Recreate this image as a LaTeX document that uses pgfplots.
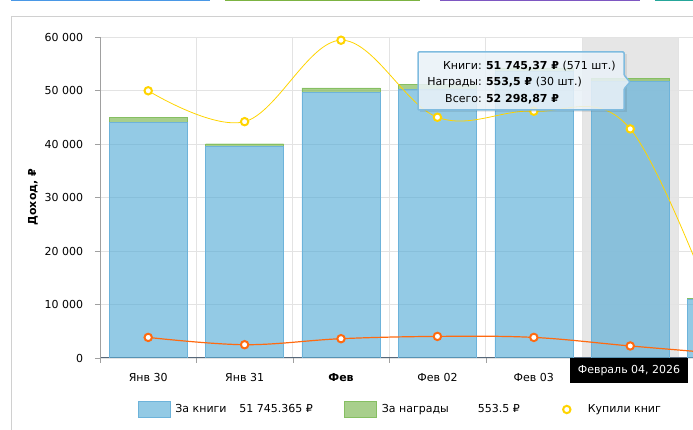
\documentclass[border=0pt]{standalone}
\usepackage{pgfplots}
\pgfplotsset{compat=1.18}
\usepackage{fontspec}
\setmainfont{DejaVu Sans}
\definecolor{barblue}{HTML}{56ACD6}
\definecolor{blueborder}{HTML}{6DB3DA}
\definecolor{bargreen}{HTML}{77B44B}
\definecolor{greenborder}{HTML}{86BF62}
\definecolor{lineyellow}{HTML}{FFD400}
\definecolor{lineorange}{HTML}{FF6A10}
\definecolor{bandgray}{HTML}{E6E6E6}
\definecolor{gridgray}{HTML}{E3E3E3}
\definecolor{axisgray}{HTML}{A0A0A0}
\definecolor{axisdark}{HTML}{56687A}
\definecolor{tipborder}{HTML}{7FBBDF}
\definecolor{tipfill}{HTML}{EDF5FB}
\definecolor{framegray}{HTML}{D0D0D0}
\definecolor{tabblue}{HTML}{4A98E6}
\definecolor{tabgreen}{HTML}{7CB342}
\definecolor{tabpurple}{HTML}{7E57C2}
\definecolor{tabteal}{HTML}{26A69A}
\pgfplotsset{common/.style={width=593pt,height=321pt,scale only axis,xmin=-0.5,xmax=5.651,at={(0pt,0pt)},anchor=south west}}
\begin{document}
\begin{tikzpicture}[font=\fontsize{11pt}{13pt}\selectfont]
\path[use as bounding box] (-100pt,-72pt) rectangle (593pt,358pt);
% page frame and tabs
\draw[framegray, line width=1pt] (-88.3pt,-72pt) -- (-88.3pt,341pt) -- (593pt,341pt);
\fill[tabblue] (-89pt,356.6pt) rectangle (110pt,358pt);
\fill[tabgreen] (125pt,356.6pt) rectangle (320pt,358pt);
\fill[tabpurple] (340pt,356.6pt) rectangle (540pt,358pt);
\fill[tabteal] (555pt,356.6pt) rectangle (593pt,358pt);
% highlight band
\begin{axis}[common, ymin=0, ymax=60000, hide axis]
\fill[bandgray] (axis cs:4.5,0) rectangle (axis cs:5.5,60000);
\end{axis}
% main axis with bars
\begin{axis}[common, ymin=0, ymax=60000,
  axis x line=bottom, axis y line=left,
  x axis line style={-, draw=axisdark, line width=1pt},
  y axis line style={-, draw=axisgray},
  xtick={-0.5,0.5,...,6.5}, x tick label as interval,
  xticklabels={Янв 30, Янв 31, \textbf{Фев}, Фев 02, Фев 03, {}, Фев 05},
  ytick={0,10000,20000,30000,40000,50000,60000},
  yticklabels={0,10 000,20 000,30 000,40 000,50 000,60 000},
  scaled y ticks=false,
  tick align=outside, major tick length=5pt, tick style={draw=axisgray},
  xmajorgrids, ymajorgrids, grid style={draw=gridgray, line width=0.8pt},
  ybar stacked, bar width=0.81,
  xticklabel style={yshift=-7pt},
  yticklabel style={xshift=-8.3pt},
  ylabel={Доход, ₽},
  every axis y label/.style={at={(axis description cs:-0.113,0.501)}, rotate=90, anchor=center, font=\fontsize{11pt}{13pt}\selectfont\bfseries},
  /pgf/number format/assume math mode=true]
\addplot[fill=barblue, fill opacity=0.64, draw=blueborder] coordinates {(0,44100) (1,39500) (2,49700) (3,50200) (4,53600) (5,51745.37) (6,10900)};
\addplot[fill=bargreen, fill opacity=0.64, draw=greenborder] coordinates {(0,900) (1,550) (2,800) (3,900) (4,650) (5,553.5) (6,250)};
\end{axis}
% lines on secondary (hidden) axis
\begin{axis}[common, ymin=0, ymax=800, hide axis,
  legend columns=3, legend cell align=left,
  legend style={at={(axis description cs:0.06408,-0.16044)}, anchor=west, draw=none, fill=none, inner sep=0pt, outer sep=0pt,
    nodes={inner sep=0pt},
    /tikz/every odd column/.style={column sep=5pt},
    /tikz/every even column/.style={column sep=0pt}}]
\addplot[smooth, tension=0.6, draw=lineyellow, line width=0.8pt, mark=*, mark size=3.7pt,
  mark options={fill=white, draw=lineyellow, line width=2pt}, forget plot]
  coordinates {(0,666) (1,589) (2,792) (3,600) (4,615) (5,571) (6,45)};
\addplot[smooth, tension=0.6, draw=lineorange, line width=1.2pt, mark=*, mark size=3.7pt,
  mark options={fill=white, draw=lineorange, line width=2pt}, forget plot]
  coordinates {(0,51.3) (1,33.1) (2,48.1) (3,53.8) (4,51.3) (5,30) (6,10)};
\addlegendimage{legend image code/.code={\draw[fill=barblue,fill opacity=0.64,draw=blueborder] (0pt,-8pt) rectangle (32pt,8pt);}}
\addlegendentry{\makebox[169pt][l]{\makebox[64pt][l]{За книги}51 745.365 ₽}}
\addlegendimage{legend image code/.code={\draw[fill=bargreen,fill opacity=0.64,draw=greenborder] (0pt,-8pt) rectangle (32pt,8pt);}}
\addlegendentry{\makebox[175pt][l]{\makebox[96pt][l]{За награды}553.5 ₽}}
\addlegendimage{legend image code/.code={\path[draw=none,fill=none] (0pt,-8pt) rectangle (26pt,8pt); \draw[draw=lineyellow, fill=white, line width=2pt] (10pt,0pt) circle (3.7pt);}}
\addlegendentry{Купили книг}
\end{axis}
% tooltip
\fill[black, opacity=0.08] (320pt,246pt) rectangle (527pt,304pt);
\draw[draw=tipborder, line width=1.5pt, fill=tipfill, fill opacity=0.85, rounded corners=1pt]
  (318pt,306pt) -- (524pt,306pt) -- (524pt,283pt) -- (530pt,276pt) -- (524pt,269pt) -- (524pt,248pt) -- (318pt,248pt) -- cycle;
\node[anchor=base east, inner sep=0pt] at (382pt,288.5pt) {Книги:};
\node[anchor=base west, inner sep=0pt] at (385.8pt,288.5pt) {\textbf{51 745,37 ₽} (571 шт.)};
\node[anchor=base east, inner sep=0pt] at (382pt,272pt) {Награды:};
\node[anchor=base west, inner sep=0pt] at (385.8pt,272pt) {\textbf{553,5 ₽} (30 шт.)};
\node[anchor=base east, inner sep=0pt] at (382pt,255.5pt) {Всего:};
\node[anchor=base west, inner sep=0pt] at (385.8pt,255.5pt) {\textbf{52 298,87 ₽}};
% date label
\fill[black] (470pt,0pt) rectangle (588pt,-25pt);
\node[text=white, inner sep=0pt] at (529pt,-12.5pt) {Февраль 04, 2026};
\end{tikzpicture}
\end{document}
